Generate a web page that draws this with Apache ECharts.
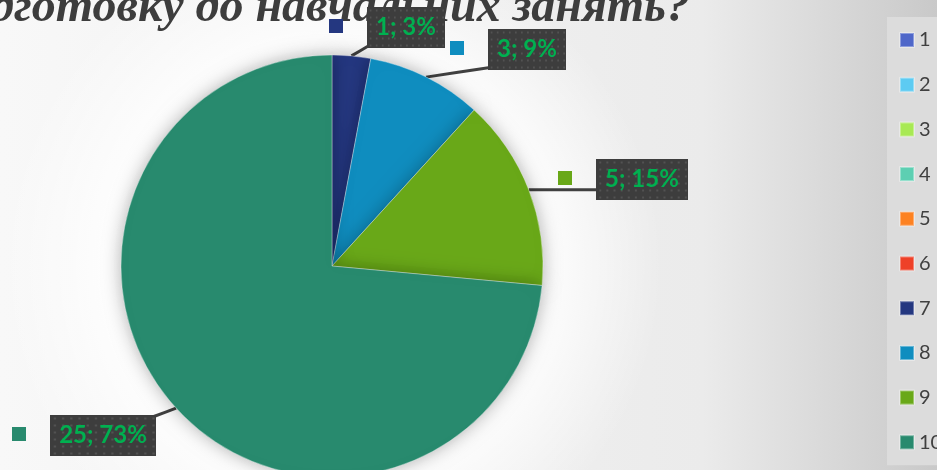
<!DOCTYPE html>
<html><head><meta charset="utf-8">
<script src="https://cdn.jsdelivr.net/npm/echarts@6/dist/echarts.min.js"></script>
<style>html,body{margin:0;padding:0;background:#fff;}#c{width:937px;height:470px;}</style>
</head><body><div id="c"></div>
<script>
// ---- data ----
const titleText = 'підготовку до навчальних занять?';
const categories = ['1', '2', '3', '4', '5', '6', '7', '8', '9', '10'];
const values = [0, 0, 0, 0, 0, 0, 1, 3, 5, 25];

// ---- style ----
const colors = ['#4F67C9', '#5DCBF2', '#A8E954', '#5DCFB2', '#FD8222', '#EE4128', '#243780', '#0F8DBF', '#69A818', '#288A6E'];
const pieCenter = [332, 266];
const pieRadius = 211;
const labelFont = 'bold 24px Lato';
const labelPad = [8, 9, 8, 9];
const labelLH = 25;
// label placement (layout only)
const boxPos = {6: [406, 27], 7: [527, 49], 8: [642, 179], 9: [103, 435]};
const keyPos = {6: [336, 26], 7: [457, 48], 8: [565, 178], 9: [19, 434]};

// dotted texture for the label boxes
const tex = document.createElement('canvas');
tex.width = 90; tex.height = 41;
(function () {
  const g = tex.getContext('2d');
  g.fillStyle = '#3d3d3d';
  g.fillRect(0, 0, tex.width, tex.height);
  g.fillStyle = '#525252';
  for (let y = 3; y < tex.height; y += 7) {
    for (let x = 3; x < tex.width; x += 7) {
      g.fillRect(x, y, 2, 2);
    }
  }
})();
const measureCtx = document.createElement('canvas').getContext('2d');
measureCtx.font = labelFont;

const chart = echarts.init(document.getElementById('c'), null, {renderer: 'canvas'});

function boxLayout(p) {
  const pos = boxPos[p.dataIndex];
  if (!pos) return {};
  const txt = String(p.text || '');
  const w = measureCtx.measureText(txt).width + labelPad[1] + labelPad[3];
  const h = labelLH + labelPad[0] + labelPad[2];
  const rx = pos[0] - w / 2, ry = pos[1] - h / 2;
  const out = {x: pos[0], y: pos[1], align: 'center', verticalAlign: 'middle'};
  // start of leader line: outer edge at the slice's mid angle
  const total = values.reduce((a, b) => a + b, 0);
  let before = 0;
  for (let i = 0; i < p.dataIndex; i++) before += values[i];
  const mid = (before + values[p.dataIndex] / 2) / total * 2 * Math.PI;
  const p0 = [pieCenter[0] + pieRadius * Math.sin(mid), pieCenter[1] - pieRadius * Math.cos(mid)];
  const ex = Math.min(Math.max(p0[0], rx + 2), rx + w - 2);
  const ey = Math.min(Math.max(p0[1], ry + 2), ry + h - 2);
  out.labelLinePoints = [p0, [(p0[0] + ex) / 2, (p0[1] + ey) / 2], [ex, ey]];
  return out;
}
function keyLayout(p) {
  const pos = keyPos[p.dataIndex];
  if (!pos) return {};
  return {x: pos[0], y: pos[1], align: 'center', verticalAlign: 'middle'};
}

const mainData = categories.map((name, i) => ({
  name: name,
  value: values[i],
  itemStyle: {color: colors[i]},
  label: {show: values[i] > 0},
  labelLine: {show: values[i] > 0}
}));
const keyData = categories.map((name, i) => ({
  name: name,
  value: values[i],
  label: {show: values[i] > 0, rich: {k: {width: 14, height: 14, backgroundColor: colors[i]}}}
}));

chart.setOption({
  animation: false,
  backgroundColor: {
    type: 'linear', x: 0, y: 0, x2: 1, y2: 0,
    colorStops: [
      {offset: 0, color: '#f8f8f8'},
      {offset: 0.75, color: '#ebebeb'},
      {offset: 1, color: '#c9c9c9'}
    ]
  },
  graphic: [
    {
      type: 'circle', z: 0, silent: true,
      shape: {cx: pieCenter[0], cy: pieCenter[1], r: 330},
      style: {
        fill: {
          type: 'radial', x: 0.5, y: 0.5, r: 0.5,
          colorStops: [
            {offset: 0, color: 'rgba(255,255,255,1)'},
            {offset: 0.6, color: 'rgba(255,255,255,1)'},
            {offset: 1, color: 'rgba(255,255,255,0)'}
          ]
        }
      }
    },
    {
      type: 'text', z: 1, silent: true,
      style: {
        text: titleText, x: 690, y: 9, align: 'right', verticalAlign: 'middle',
        fontFamily: '"Liberation Serif", "DejaVu Serif", serif',
        fontSize: 48, fontWeight: 'bold', fontStyle: 'italic',
        fill: '#3d3d3d'
      }
    }
  ],
  legend: {
    orient: 'vertical',
    left: 887, top: 17,
    padding: [13, 12, 13, 12],
    backgroundColor: '#dcdcdc',
    itemWidth: 14, itemHeight: 14, itemGap: 24.7,
    icon: 'rect',
    selectedMode: false,
    data: categories,
    textStyle: {fontFamily: 'Lato, "Open Sans", sans-serif', fontSize: 20, lineHeight: 20, color: '#404040'}
  },
  series: [
    {
      type: 'pie',
      center: pieCenter,
      radius: pieRadius,
      startAngle: 90,
      clockwise: true,
      avoidLabelOverlap: false,
      percentPrecision: 0,
      silent: true,
      itemStyle: {
        borderColor: 'rgba(255,255,255,0.35)', borderWidth: 1,
        shadowBlur: 18, shadowColor: 'rgba(0,0,0,0.3)'
      },
      label: {
        position: 'outside',
        formatter: '{c}; {d}%',
        color: '#00B050',
        fontFamily: 'Lato, "Open Sans", sans-serif',
        fontWeight: 'bold',
        fontSize: 24,
        lineHeight: labelLH,
        backgroundColor: {image: tex},
        padding: labelPad,
        shadowBlur: 6, shadowColor: 'rgba(0,0,0,0.5)', shadowOffsetX: 2, shadowOffsetY: 3
      },
      labelLine: {
        length: 15, length2: 15,
        lineStyle: {color: '#404040', width: 3}
      },
      labelLayout: boxLayout,
      data: mainData
    },
    {
      type: 'pie',
      center: pieCenter,
      radius: pieRadius,
      startAngle: 90,
      clockwise: true,
      avoidLabelOverlap: false,
      silent: true,
      itemStyle: {color: 'rgba(0,0,0,0)', borderWidth: 0},
      label: {position: 'outside', formatter: '{k| }'},
      labelLine: {show: false},
      labelLayout: keyLayout,
      data: keyData
    }
  ]
});
</script>
</body></html>
